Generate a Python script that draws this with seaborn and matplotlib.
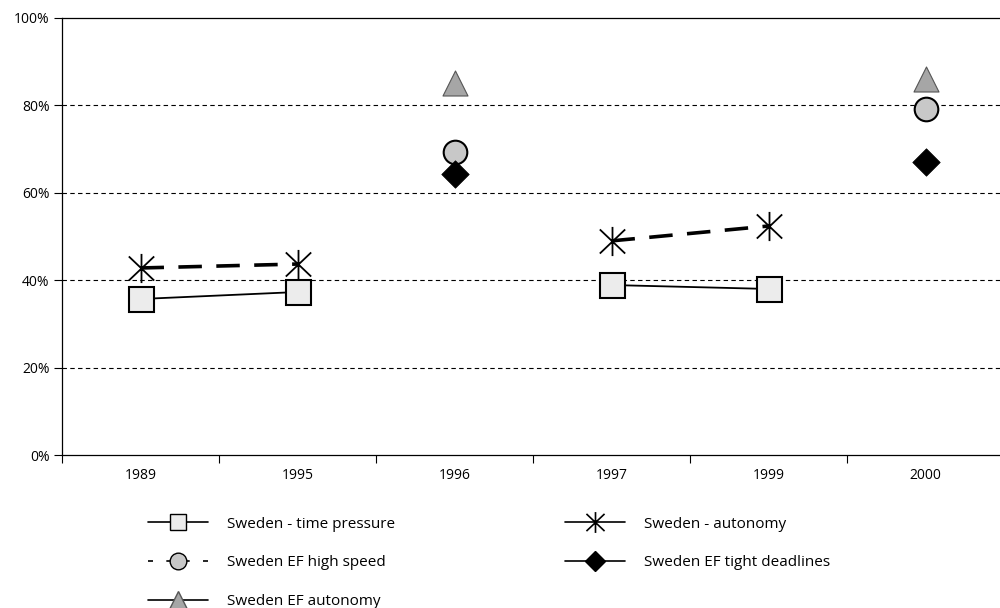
import numpy as np
import pandas as pd
import seaborn as sns
import matplotlib.pyplot as plt
from matplotlib.path import Path
from matplotlib.lines import Line2D
from matplotlib.ticker import FixedLocator, PercentFormatter

# Data (percent)
years = ['1989', '1995', '1996', '1997', '1999', '2000']
time_pressure = [35.7, 37.3, np.nan, 38.9, 38.0, np.nan]
autonomy = [42.8, 43.7, np.nan, 49.0, 52.4, np.nan]
ef_high_speed = [np.nan, np.nan, 69.3, np.nan, np.nan, 79.2]
ef_tight_deadlines = [np.nan, np.nan, 64.3, np.nan, np.nan, 67.0]
ef_autonomy = [np.nan, np.nan, 85.1, np.nan, np.nan, 86.0]
yticks = [0, 20, 40, 60, 80, 100]


def to_frame(values):
    # long frame with a segment id so gaps (NaN) break the line
    d = pd.DataFrame({'year': years, 'value': values})
    d['pos'] = np.arange(len(years))
    d['segment'] = d['value'].isna().cumsum()
    return d.dropna()


# asterisk marker: vertical bar plus an X
star = Path([(0, -1.15), (0, 1.15), (-1.0, -0.95), (1.0, 0.95), (-1.0, 0.95), (1.0, -0.95)],
            [Path.MOVETO, Path.LINETO, Path.MOVETO, Path.LINETO, Path.MOVETO, Path.LINETO])

sns.set_style('white')
plt.rcParams['font.family'] = ['Open Sans', 'DejaVu Sans']
plt.rcParams['font.size'] = 10
plt.rcParams['text.color'] = 'black'
plt.rcParams['xtick.color'] = 'black'
plt.rcParams['ytick.color'] = 'black'

fig = plt.figure(figsize=(10, 6.08), dpi=100)
ax = fig.add_axes([0.062, 0.2516, 0.942, 0.7188])

sns.lineplot(data=to_frame(autonomy), x='pos', y='value', units='segment', estimator=None,
             sort=False, color='black', lw=2.6, dashes=False, linestyle=(0, (6.5, 4)),
             marker=star, markersize=21, markeredgecolor='black', markeredgewidth=1.3,
             zorder=3, ax=ax)
sns.lineplot(data=to_frame(time_pressure), x='pos', y='value', units='segment', estimator=None,
             sort=False, color='black', lw=1.3,
             marker='s', markersize=18, markerfacecolor='#ececec', markeredgecolor='black',
             markeredgewidth=1.5, zorder=4, ax=ax)
sns.scatterplot(data=to_frame(ef_autonomy), x='pos', y='value', marker='^', s=18 ** 2,
                color='#a6a6a6', edgecolor='#555555', linewidth=0.8, zorder=4, ax=ax)
sns.scatterplot(data=to_frame(ef_high_speed), x='pos', y='value', marker='o', s=17 ** 2,
                color='#c8c8c8', edgecolor='black', linewidth=1.5, zorder=4, ax=ax)
sns.scatterplot(data=to_frame(ef_tight_deadlines), x='pos', y='value', marker='D', s=14 ** 2,
                color='black', edgecolor='black', linewidth=0.5, zorder=5, ax=ax)

# axes styling
ax.set_xlim(-0.5, len(years) - 0.5)
ax.set_ylim(0, 100)
ax.set_xlabel('')
ax.set_ylabel('')
ax.set_xticks(range(len(years)))
ax.set_xticklabels(years)
ax.xaxis.set_minor_locator(FixedLocator(np.arange(-0.5, len(years), 1)))
ax.tick_params(axis='x', which='major', length=0, pad=9, labelsize=10)
ax.tick_params(axis='x', which='minor', length=6, width=0.8, direction='out', bottom=True)
ax.set_yticks(yticks)
ax.yaxis.set_major_formatter(PercentFormatter(decimals=0))
ax.tick_params(axis='y', length=6, width=0.8, direction='out', left=True, pad=3, labelsize=10)
for y in yticks[1:-1]:
    ax.axhline(y, color='black', lw=0.8, linestyle=(0, (4, 3)), zorder=1)
for side in ['left', 'bottom', 'top']:
    ax.spines[side].set_color('black')
    ax.spines[side].set_linewidth(0.9)
ax.spines['right'].set_visible(False)
if ax.get_legend():
    ax.get_legend().remove()

# legend (two columns, custom handles)
col1 = [
    (Line2D([], [], color='black', lw=1.2, marker='s', markersize=12, markerfacecolor='#ececec',
            markeredgecolor='black'), 'Sweden - time pressure'),
    (Line2D([], [], color='black', lw=1.2, linestyle=(0, (3, 8)), marker='o', markersize=12,
            markerfacecolor='#c8c8c8', markeredgecolor='black'), 'Sweden EF high speed'),
    (Line2D([], [], color='black', lw=1.2, marker='^', markersize=13, markerfacecolor='#a6a6a6',
            markeredgecolor='#555555'), 'Sweden EF autonomy'),
]
col2 = [
    (Line2D([], [], color='black', lw=1.2, marker=star, markersize=15, markeredgecolor='black',
            markeredgewidth=1.2), 'Sweden - autonomy'),
    (Line2D([], [], color='black', lw=1.2, marker='D', markersize=10, markerfacecolor='black',
            markeredgecolor='black'), 'Sweden EF tight deadlines'),
]
for items, x0 in [(col1, 0.148), (col2, 0.565)]:
    fig.legend([h for h, _ in items], [l for _, l in items], loc='upper left',
               bbox_to_anchor=(x0, 0.150), frameon=False, borderpad=0, borderaxespad=0,
               handlelength=3.9, handletextpad=1.3, labelspacing=1.55, fontsize=11)

fig.savefig('out.png', dpi=100)
